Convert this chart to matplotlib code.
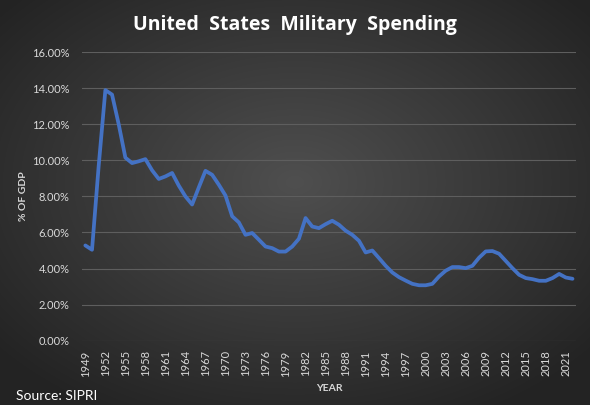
import numpy as np
import matplotlib
matplotlib.use("Agg")
import matplotlib.pyplot as plt
from matplotlib.ticker import FuncFormatter

# US military spending, % of GDP
years = list(range(1949, 2023))
spending_pct = [
    5.28, 5.04, 9.7, 13.9, 13.65, 12.0, 10.15, 9.85, 9.95, 10.07,   # 1949-1958
    9.45, 8.97, 9.11, 9.3, 8.6, 8.0, 7.55, 8.5, 9.42, 9.2,          # 1959-1968
    8.65, 8.05, 6.9, 6.56, 5.87, 5.97, 5.6, 5.22, 5.13, 4.94,       # 1969-1978
    4.94, 5.22, 5.65, 6.8, 6.33, 6.24, 6.46, 6.65, 6.43, 6.1,       # 1979-1988
    5.87, 5.54, 4.89, 5.0, 4.58, 4.15, 3.78, 3.52, 3.33, 3.15,      # 1989-1998
    3.07, 3.07, 3.15, 3.56, 3.88, 4.08, 4.08, 4.02, 4.15, 4.6,      # 1999-2008
    4.95, 4.97, 4.82, 4.42, 4.02, 3.65, 3.47, 3.41, 3.32, 3.32,     # 2009-2018
    3.47, 3.7, 3.5, 3.43,                                           # 2019-2022
]
tick_years = [1949, 1952, 1955, 1958, 1961, 1964, 1967, 1970, 1973, 1976,
              1979, 1982, 1985, 1988, 1991, 1994, 1997, 2000, 2003, 2006,
              2009, 2012, 2015, 2018, 2021]
y_ticks = [0, 2, 4, 6, 8, 10, 12, 14, 16]

LINE_BLUE = "#4472C4"
TEXT_GREY = "#D9D9D9"
GRID_GREY = "#5E5E5E"

plt.rcParams["font.family"] = ["Lato", "DejaVu Sans"]

fig = plt.figure(figsize=(5.9, 4.05), dpi=100)

# radial gradient background, lighter in the middle
bg = fig.add_axes([0, 0, 1, 1], zorder=-10)
gx, gy = np.meshgrid(np.linspace(-1, 1, 590), np.linspace(-1, 1, 405))
r = np.sqrt(gx ** 2 + (gy + 0.1) ** 2)
r = np.clip(r / 1.3, 0, 1)
shade = 0.31 - 0.17 * r
bg.imshow(np.dstack([shade, shade, shade]), aspect="auto", extent=[0, 1, 0, 1])
bg.set_axis_off()

ax = fig.add_axes([0.139, 0.159, 0.837, 0.712])
ax.patch.set_alpha(0)
ax.plot(years, spending_pct, color=LINE_BLUE, linewidth=2.7,
        solid_joinstyle="round", solid_capstyle="round", zorder=3)

ax.set_xlim(years[0] - 0.5, years[-1] + 0.5)
ax.set_ylim(0, 16)
ax.set_yticks(y_ticks)
ax.yaxis.set_major_formatter(FuncFormatter(lambda v, _: f"{v:.2f}%"))
ax.set_xticks(tick_years)
ax.set_xticklabels([str(y) for y in tick_years], rotation=90)
ax.tick_params(axis="both", length=0, colors=TEXT_GREY, labelsize=8)
ax.tick_params(axis="x", pad=7)
ax.tick_params(axis="y", pad=9)
ax.grid(axis="y", color=GRID_GREY, linewidth=0.8)
ax.set_axisbelow(True)
for s in ax.spines.values():
    s.set_visible(False)

ax.set_ylabel("% OF GDP", color=TEXT_GREY, fontsize=7.5, fontweight="bold", labelpad=3)
ax.set_xlabel("YEAR", color=TEXT_GREY, fontsize=7.5, fontweight="bold", labelpad=5)

fig.text(0.5, 0.938, "United  States  Military  Spending", ha="center", va="center",
         color="white", fontsize=14, fontweight="bold", family=["Open Sans", "DejaVu Sans"])
fig.text(0.027, 0.022, "Source: SIPRI", ha="left", va="center",
         color="white", fontsize=10)

fig.savefig("out.png", dpi=100)
